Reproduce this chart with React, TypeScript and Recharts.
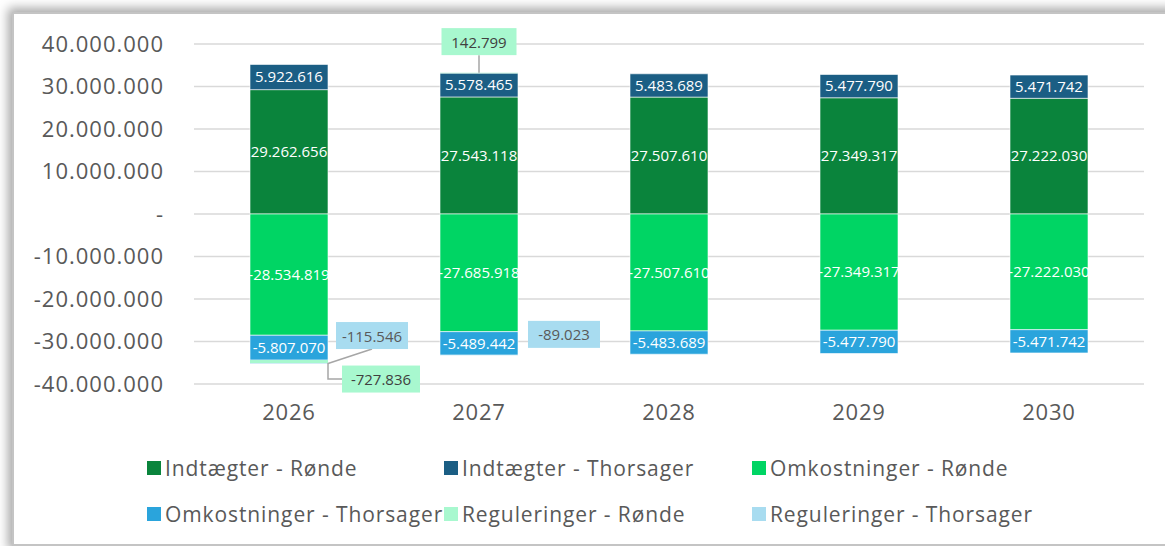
import React from 'react';
import { BarChart, Bar, XAxis, YAxis, CartesianGrid, Legend, LabelList } from 'recharts';

const years = ['2026', '2027', '2028', '2029', '2030'];
const indtaegterRonde = [29262656, 27543118, 27507610, 27349317, 27222030];
const indtaegterThorsager = [5922616, 5578465, 5483689, 5477790, 5471742];
const omkostningerRonde = [-28534819, -27685918, -27507610, -27349317, -27222030];
const omkostningerThorsager = [-5807070, -5489442, -5483689, -5477790, -5471742];
const reguleringerRonde = [-727836, 142799, 0, 0, 0];
const reguleringerThorsager = [-115546, -89023, 0, 0, 0];
const yTicks = [-40000000, -30000000, -20000000, -10000000, 0, 10000000, 20000000, 30000000, 40000000];

const data = years.map((year, i) => ({
  year,
  ir: indtaegterRonde[i],
  it: indtaegterThorsager[i],
  or: omkostningerRonde[i],
  ot: omkostningerThorsager[i],
  rr: reguleringerRonde[i],
  rt: reguleringerThorsager[i],
}));

const series = [
  { key: 'ir', name: 'Indtægter - Rønde', color: '#0a843c' },
  { key: 'it', name: 'Indtægter - Thorsager', color: '#1b5e84' },
  { key: 'or', name: 'Omkostninger - Rønde', color: '#00d564' },
  { key: 'ot', name: 'Omkostninger - Thorsager', color: '#2aa4dc' },
  { key: 'rr', name: 'Reguleringer - Rønde', color: '#a8f8cf' },
  { key: 'rt', name: 'Reguleringer - Thorsager', color: '#a8dcf0' },
];

const FONT = '"Open Sans", sans-serif';

const fmt = (v: number) => {
  if (v === 0) return '-';
  const s = Math.abs(Math.round(v)).toString().replace(/\B(?=(\d{3})+(?!\d))/g, '.');
  return (v < 0 ? '-' : '') + s;
};

// callout placement for the small "reguleringer" segments
const rrCallouts: any[] = [
  { edge: 'bottom', dx: 92, dy: 16, w: 78, leader: 'elbow' },
  { edge: 'top', dx: 0, dy: -31, w: 75, leader: 'vertical' },
];
const rtCallouts: any[] = [
  { edge: 'bottom', dx: 83, dy: -28, w: 72, leader: 'diag' },
  { edge: 'bottom', dx: 85, dy: -21, w: 72, leader: 'none' },
];

const makeCallout = (cfg: any[], values: number[], fill: string, textFill: string) => (props: any) => {
  const { x, y, width, height, index } = props;
  const c = cfg[index];
  const value = values[index];
  if (!c || !value) return null;
  const top = Math.min(y, y + height);
  const bottom = Math.max(y, y + height);
  const cx = x + width / 2;
  const anchorY = c.edge === 'top' ? top : bottom;
  const bx = cx + c.dx;
  const by = anchorY + c.dy;
  const h = 27;
  let leader = null;
  if (c.leader === 'vertical') leader = <line x1={cx} y1={by + h / 2} x2={cx} y2={top} />;
  if (c.leader === 'diag') leader = <line x1={bx} y1={by + h / 2} x2={x + width} y2={bottom} />;
  if (c.leader === 'elbow')
    leader = <polyline fill="none" points={`${x + width},${bottom} ${x + width},${by} ${bx - c.w / 2},${by}`} />;
  return (
    <g>
      <g stroke="#a6a6a6" strokeWidth={1.5}>{leader}</g>
      <rect x={bx - c.w / 2} y={by - h / 2} width={c.w} height={h} fill={fill} />
      <text x={bx} y={by} textAnchor="middle" dominantBaseline="central" fill={textFill} fontSize={15} fontFamily={FONT}>
        {fmt(value)}
      </text>
    </g>
  );
};

const legendCols = [147, 444, 752];

function LegendContent() {
  return (
    <div style={{ position: 'relative', width: 1165, height: 90, fontFamily: FONT }}>
      {series.map((s, i) => (
        <div
          key={s.key}
          style={{
            position: 'absolute',
            left: legendCols[i % 3],
            top: i < 3 ? 8 : 54,
            display: 'flex',
            alignItems: 'center',
            whiteSpace: 'nowrap',
            fontSize: 21,
            letterSpacing: 0.9,
            color: '#595959',
          }}
        >
          <span style={{ display: 'inline-block', width: 14, height: 14, background: s.color, marginRight: 4 }} />
          {s.name}
        </div>
      ))}
    </div>
  );
}

export default function App() {
  return (
    <div style={{ position: 'absolute', left: 0, top: 0, width: 1165, height: 546, background: '#fff', overflow: 'hidden' }}>
      <div
        style={{
          position: 'absolute',
          left: 12,
          top: 12,
          width: 1180,
          height: 530,
          background: '#fff',
          border: '2px solid #c4c4c4',
          boxShadow: '0 0 10px 4px rgba(0,0,0,0.35)',
        }}
      />
      <div style={{ position: 'absolute', left: 0, top: 0 }}>
        <BarChart
          width={1165}
          height={546}
          data={data}
          stackOffset="sign"
          barSize={78}
          margin={{ top: 44, right: 21, bottom: 32, left: 0 }}
        >
          <CartesianGrid vertical={false} stroke="#d9d9d9" strokeWidth={1.5} />
          <XAxis
            dataKey="year"
            axisLine={false}
            tickLine={false}
            height={40}
            tickMargin={14}
            tick={{ fill: '#595959', fontSize: 22, fontFamily: FONT, letterSpacing: 0.8 }}
          />
          <YAxis
            width={194}
            domain={[-40000000, 40000000]}
            ticks={yTicks}
            axisLine={false}
            tickLine={false}
            tickMargin={24}
            tickFormatter={fmt}
            tick={{ fill: '#595959', fontSize: 22, fontFamily: FONT, letterSpacing: 1 }}
          />
          <Legend verticalAlign="bottom" content={() => <LegendContent />} wrapperStyle={{ left: 0, top: 446, width: 1165 }} />
          {series.slice(0, 4).map((s) => (
            <Bar key={s.key} dataKey={s.key} name={s.name} stackId="a" fill={s.color} stroke="#ffffff" strokeWidth={0.6} isAnimationActive={false}>
              <LabelList dataKey={s.key} position="center" fill="#ffffff" fontSize={15} fontFamily={FONT} formatter={(v: any) => fmt(Number(v))} />
            </Bar>
          ))}
          <Bar dataKey="rr" name={series[4].name} stackId="a" fill={series[4].color} isAnimationActive={false}>
            <LabelList dataKey="rr" content={makeCallout(rrCallouts, reguleringerRonde, '#a8f8cf', '#404040')} />
          </Bar>
          <Bar dataKey="rt" name={series[5].name} stackId="a" fill={series[5].color} isAnimationActive={false}>
            <LabelList dataKey="rt" content={makeCallout(rtCallouts, reguleringerThorsager, '#a8dcf0', '#595959')} />
          </Bar>
        </BarChart>
      </div>
    </div>
  );
}
